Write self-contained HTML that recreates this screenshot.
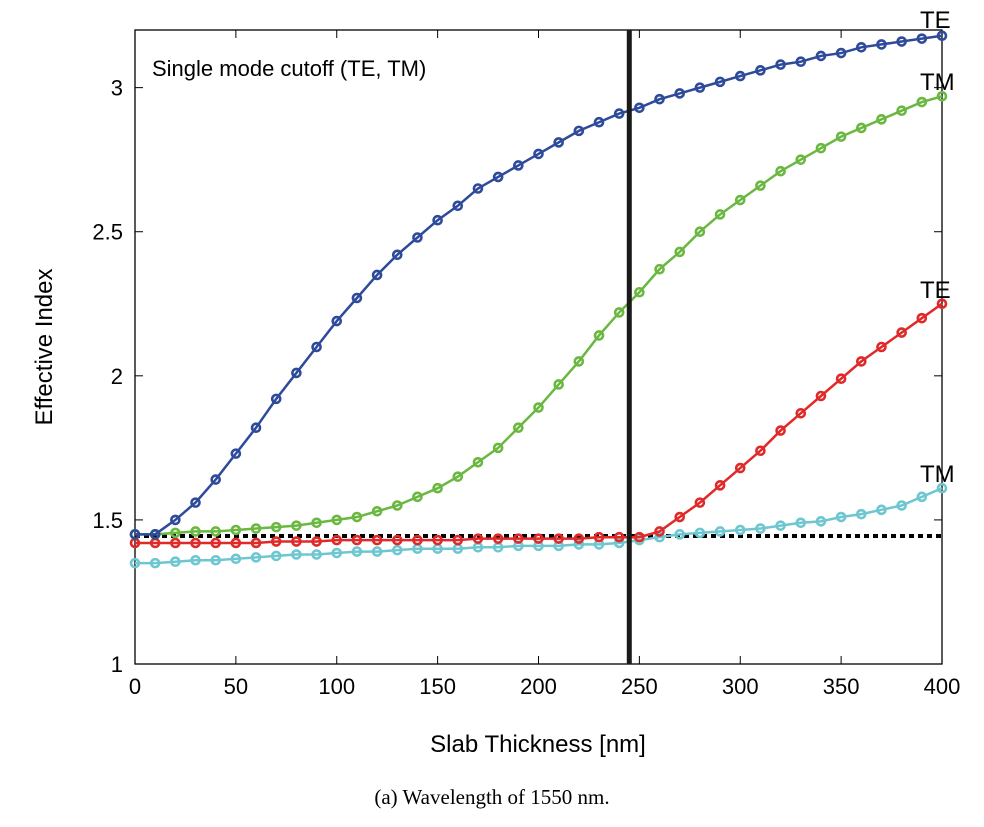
<!DOCTYPE html>
<html><head><meta charset="utf-8"><style>
body{margin:0;background:#fff;width:984px;height:822px;overflow:hidden}
svg{font-family:"Liberation Sans",sans-serif}
</style></head><body>
<svg id="chart" width="984" height="822" xmlns="http://www.w3.org/2000/svg"></svg>
<script>
const xs=[0,10,20,30,40,50,60,70,80,90,100,110,120,130,140,150,160,170,180,190,200,210,220,230,240,250,260,270,280,290,300,310,320,330,340,350,360,370,380,390,400];
const teFund=[1.45,1.45,1.50,1.56,1.64,1.73,1.82,1.92,2.01,2.10,2.19,2.27,2.35,2.42,2.48,2.54,2.59,2.65,2.69,2.73,2.77,2.81,2.85,2.88,2.91,2.93,2.96,2.98,3.00,3.02,3.04,3.06,3.08,3.09,3.11,3.12,3.14,3.15,3.16,3.17,3.18];
const tmFund=[1.45,1.45,1.455,1.46,1.46,1.465,1.47,1.475,1.48,1.49,1.50,1.51,1.53,1.55,1.58,1.61,1.65,1.70,1.75,1.82,1.89,1.97,2.05,2.14,2.22,2.29,2.37,2.43,2.50,2.56,2.61,2.66,2.71,2.75,2.79,2.83,2.86,2.89,2.92,2.95,2.97];
const te2=[1.42,1.42,1.42,1.42,1.42,1.42,1.42,1.425,1.425,1.425,1.43,1.43,1.43,1.43,1.43,1.43,1.43,1.435,1.435,1.435,1.435,1.435,1.435,1.44,1.44,1.44,1.46,1.51,1.56,1.62,1.68,1.74,1.81,1.87,1.93,1.99,2.05,2.10,2.15,2.20,2.25];
const tm2=[1.35,1.35,1.355,1.36,1.36,1.365,1.37,1.375,1.38,1.38,1.385,1.39,1.39,1.395,1.40,1.40,1.40,1.405,1.405,1.41,1.41,1.41,1.415,1.415,1.42,1.43,1.44,1.45,1.455,1.46,1.465,1.47,1.48,1.49,1.495,1.51,1.52,1.535,1.55,1.58,1.61];
const xTicks=[0,50,100,150,200,250,300,350,400];
const yTicks=[1,1.5,2,2.5,3];
const cutoffIndex=1.444, cutoffThickness=245;
const X0=135,X1=942,Y0=664,Y1=30;
const sx=v=>X0+(v-0)/400*(X1-X0);
const sy=v=>Y0-(v-1)/(3.2-1)*(Y0-Y1);
const svg=document.getElementById('chart');
function el(t,a,txt){const e=document.createElementNS('http://www.w3.org/2000/svg',t);for(const k in a)e.setAttribute(k,a[k]);if(txt!==undefined)e.textContent=txt;svg.appendChild(e);return e;}
let f=el('rect',{x:X0,y:Y1,width:X1-X0,height:Y0-Y1,fill:'none',stroke:'#000','stroke-width':1.3});


xTicks.forEach(t=>{
 el('line',{x1:sx(t),x2:sx(t),y1:Y0,y2:Y0-8,stroke:'#000'});
 el('line',{x1:sx(t),x2:sx(t),y1:Y1,y2:Y1+8,stroke:'#000'});
 const l=el('text',{x:sx(t),y:Y0+30,'text-anchor':'middle','font-size':22},t);
 
 
});
yTicks.forEach(t=>{
 el('line',{x1:X0,x2:X0+8,y1:sy(t),y2:sy(t),stroke:'#000'});
 el('line',{x1:X1,x2:X1-8,y1:sy(t),y2:sy(t),stroke:'#000'});
 const l=el('text',{x:X0-12,y:sy(t)+8,'text-anchor':'end','font-size':22},t);
 
 
});
let d=el('line',{x1:X0,x2:X1,y1:sy(cutoffIndex),y2:sy(cutoffIndex),stroke:'#000','stroke-width':4,'stroke-dasharray':'5,4'});


const series=[[tm2,'#6ec7d0','tm2-series'],[te2,'#e02a2a','te2-series'],[tmFund,'#6ab841','tm-fundamental-series'],[teFund,'#2e4a9a','te-fundamental-series']];
series.forEach(([ys,c,n])=>{
 const p=el('polyline',{points:xs.map((x,i)=>sx(x)+','+sy(ys[i])).join(' '),fill:'none',stroke:c,'stroke-width':2.5});
 
 
 xs.forEach((x,i)=>{
  const m=el('circle',{cx:sx(x),cy:sy(ys[i]),r:4,fill:'none',stroke:c,'stroke-width':2.6});
  
  
 });
});
let v=el('line',{x1:sx(cutoffThickness),x2:sx(cutoffThickness),y1:Y1,y2:Y0,stroke:'#1a1a1a','stroke-width':5});


function lab(x,y,s,n,size,extra){const t=el('text',Object.assign({x:x,y:y,'font-size':size},extra||{}),s);}
lab(152,76,'Single mode cutoff (TE, TM)','annotation-text',22);
lab(920,28,'TE','label-te-1',24);
lab(920,90,'TM','label-tm-1',24);
lab(920,298,'TE','label-te-2',24);
lab(920,482,'TM','label-tm-2',24);
lab(538,752,'Slab Thickness [nm]','x-axis-title',24,{'text-anchor':'middle'});
lab(0,0,'Effective Index','y-axis-title',24,{'text-anchor':'middle',transform:'translate(52,347) rotate(-90)'});
lab(492,804,'(a) Wavelength of 1550 nm.','caption',21,{'text-anchor':'middle','font-family':'Liberation Serif, serif'});
</script>
</body></html>
